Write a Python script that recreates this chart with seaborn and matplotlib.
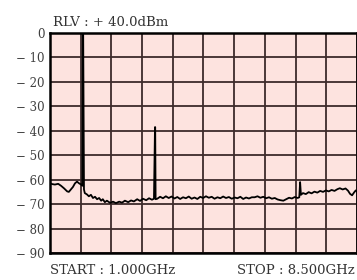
import numpy as np
import pandas as pd
import matplotlib
matplotlib.use("Agg")
import matplotlib.pyplot as plt
import seaborn as sns

# ── Sweep trace (GHz, dBm) ───────────────────────────────────────────────────
FREQ_GHZ = [
    1.00, 1.05, 1.12, 1.20, 1.27, 1.34, 1.42, 1.46, 1.51, 1.56, 1.61, 1.66,
    1.71, 1.76, 1.79, 1.80, 1.81, 1.83, 1.85,
    1.90, 1.95, 2.00, 2.05, 2.10, 2.15, 2.20, 2.25, 2.29, 2.34, 2.39, 2.47,
    2.54, 2.61, 2.69, 2.76, 2.83, 2.91, 2.98, 3.05, 3.13, 3.20, 3.27, 3.35,
    3.42, 3.49, 3.54, 3.565, 3.57, 3.58,
    3.62, 3.69, 3.76, 3.83, 3.90, 3.97, 4.04, 4.11, 4.18, 4.25, 4.32, 4.39,
    4.46, 4.53, 4.60, 4.67, 4.74, 4.81, 4.88, 4.95, 5.02, 5.09, 5.16, 5.23,
    5.30, 5.37, 5.44, 5.51, 5.58, 5.65, 5.72, 5.79, 5.86, 5.93, 6.00, 6.07,
    6.14, 6.21, 6.28, 6.35, 6.42, 6.49, 6.56, 6.63, 6.70, 6.77, 6.84, 6.91,
    6.98, 7.05, 7.09, 7.11, 7.13, 7.18, 7.25, 7.32, 7.39, 7.46, 7.53, 7.60,
    7.67, 7.74, 7.81, 7.88, 7.95, 8.02, 8.08, 8.15, 8.22, 8.28, 8.33, 8.38,
    8.43, 8.47, 8.50,
]
LEVEL_DBM = [
    -61.5, -61.8, -62.0, -61.7, -62.5, -63.5, -64.8, -65.0, -64.0, -63.0, -61.5, -60.8,
    -61.5, -62.0, -62.5, 2.0, 2.0, -64.0, -65.5,
    -66.0, -66.8, -66.2, -67.5, -67.0, -68.0, -67.5, -68.6, -68.0, -69.2, -68.6, -69.5,
    -69.0, -69.6, -69.0, -69.4, -68.6, -69.2, -68.5, -68.9, -68.0, -68.7, -67.8, -68.4,
    -67.6, -68.2, -67.8, -38.5, -38.5, -68.0,
    -67.8, -67.0, -67.6, -66.8, -67.5, -66.9, -67.7, -67.1, -67.9, -67.2, -67.6, -66.9,
    -67.8, -67.3, -67.9, -67.0, -67.5, -66.8, -67.4, -67.0, -67.8, -67.2, -67.6, -66.9,
    -67.5, -67.1, -67.8, -67.3, -67.6, -67.0, -67.9, -67.3, -67.7, -67.2, -67.2, -66.8,
    -67.4, -67.0, -67.6, -67.2, -67.8, -67.5, -68.1, -68.4, -68.6, -68.0, -67.4, -67.7,
    -67.1, -67.5, -67.2, -61.0, -66.2, -65.5, -65.9, -65.1, -65.6, -64.9, -65.3, -64.6,
    -65.0, -64.4, -64.8, -64.2, -64.6, -63.9, -63.5, -64.0, -63.6, -64.5, -65.8, -66.4,
    -65.2, -64.4, -64.8,
]

Y_TICKS = [0, -10, -20, -30, -40, -50, -60, -70, -80, -90]
Y_LABELS = ["0", "− 10", "− 20", "− 30", "− 40", "− 50", "− 60", "− 70", "− 80", "− 90"]
F_START, F_STOP = 1.0, 8.5
N_DIV = 10

df = pd.DataFrame({"freq": FREQ_GHZ, "level": LEVEL_DBM})

sns.set_theme(style="white")
plt.rcParams["font.family"] = ["DejaVu Serif"]

fig = plt.figure(figsize=(3.57, 2.80), dpi=100)
ax = fig.add_axes([50 / 357, 27 / 280, 307 / 357, 220 / 280])
ax.set_facecolor("#fde3df")

sns.lineplot(data=df, x="freq", y="level", ax=ax, color="black",
             linewidth=1.3, estimator=None, sort=False)

ax.set_xlim(F_START, F_STOP)
ax.set_ylim(-90, 0)
ax.set_xticks(np.linspace(F_START, F_STOP, N_DIV + 1))
ax.set_xticklabels([])
ax.set_yticks(Y_TICKS)
ax.set_yticklabels(Y_LABELS, fontsize=8.5, color="#404040")
ax.tick_params(length=0, pad=4)
ax.grid(True, color="#3d2b2b", linewidth=1.3)
ax.set_xlabel("")
ax.set_ylabel("")
for side in ax.spines.values():
    side.set_color("black")
    side.set_linewidth(1.8)

fig.text(53 / 357, 1 - 23 / 280, "RLV : + 40.0dBm", va="center", fontsize=9.5, color="#333333")
fig.text(50 / 357, 10 / 280, "START : 1.000GHz", va="center", fontsize=9.5, color="#333333")
fig.text(355 / 357, 10 / 280, "STOP : 8.500GHz", va="center", ha="right",
         fontsize=9.5, color="#333333")

fig.savefig("out.png", dpi=100)
